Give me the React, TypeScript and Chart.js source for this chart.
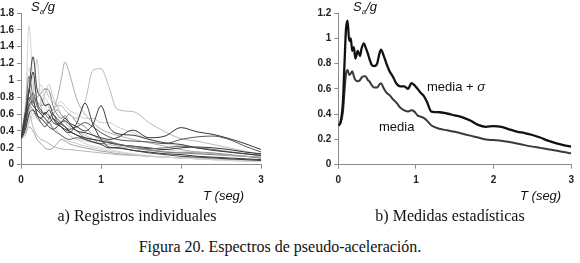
import React, { useEffect, useRef } from "react";
import { Chart, registerables } from "chart.js";

Chart.register(...registerables);

// ---------- Data: a) individual records ----------
const T_IND = [0, 0.05, 0.1, 0.15, 0.2, 0.25, 0.3, 0.35, 0.4, 0.45, 0.5, 0.55, 0.6, 0.7, 0.8, 0.9, 1.0, 1.1, 1.2, 1.4, 1.6, 1.8, 2.0, 2.2, 2.4, 2.6, 2.8, 3.0];

const REC_01 = [0.31, 0.5, 1.65, 1.0, 0.85, 0.95, 0.7, 0.6, 0.55, 0.5, 0.45, 0.4, 0.35, 0.3, 0.25, 0.22, 0.2, 0.18, 0.16, 0.13, 0.11, 0.09, 0.08, 0.07, 0.06, 0.05, 0.05, 0.04];
const REC_02 = [0.31, 0.45, 0.65, 0.75, 0.8, 0.85, 0.9, 0.8, 0.75, 0.7, 0.7, 0.65, 0.6, 0.55, 0.75, 1.12, 1.14, 0.92, 0.66, 0.63, 0.5, 0.39, 0.31, 0.28, 0.24, 0.2, 0.16, 0.12];
const REC_03 = [0.31, 0.4, 0.6, 0.8, 0.75, 0.7, 0.72, 0.68, 0.65, 0.78, 1.0, 1.22, 1.1, 0.77, 0.6, 0.5, 0.42, 0.38, 0.35, 0.3, 0.26, 0.22, 0.18, 0.15, 0.13, 0.11, 0.1, 0.09];
const REC_04 = [0.31, 0.55, 0.9, 1.28, 0.9, 0.8, 0.7, 0.72, 0.6, 0.55, 0.5, 0.45, 0.4, 0.35, 0.3, 0.27, 0.24, 0.2, 0.2, 0.17, 0.15, 0.13, 0.12, 0.1, 0.09, 0.08, 0.07, 0.06];
const REC_05 = [0.31, 0.5, 0.8, 0.7, 0.65, 0.6, 0.55, 0.5, 0.55, 0.5, 0.45, 0.4, 0.38, 0.5, 0.73, 0.48, 0.3, 0.21, 0.2, 0.17, 0.14, 0.12, 0.1, 0.09, 0.08, 0.07, 0.06, 0.05];
const REC_06 = [0.31, 0.45, 0.7, 0.75, 0.6, 0.55, 0.62, 0.58, 0.5, 0.48, 0.5, 0.55, 0.5, 0.45, 0.4, 0.48, 0.7, 0.45, 0.37, 0.35, 0.3, 0.26, 0.24, 0.2, 0.17, 0.15, 0.13, 0.11];
const REC_07 = [0.31, 0.4, 0.6, 0.65, 0.58, 0.55, 0.5, 0.45, 0.42, 0.45, 0.5, 0.52, 0.48, 0.4, 0.38, 0.35, 0.32, 0.3, 0.32, 0.41, 0.32, 0.34, 0.44, 0.39, 0.36, 0.31, 0.25, 0.18];
const REC_08 = [0.31, 0.5, 0.75, 0.85, 0.7, 0.62, 0.6, 0.55, 0.6, 0.52, 0.48, 0.45, 0.42, 0.45, 0.5, 0.45, 0.38, 0.33, 0.3, 0.28, 0.27, 0.25, 0.3, 0.33, 0.34, 0.3, 0.22, 0.15];
const REC_09 = [0.31, 0.6, 0.9, 0.75, 0.8, 0.85, 0.9, 0.88, 0.7, 0.6, 0.55, 0.58, 0.5, 0.4, 0.32, 0.3, 0.28, 0.26, 0.25, 0.2, 0.18, 0.15, 0.14, 0.13, 0.12, 0.11, 0.1, 0.08];
const REC_10 = [0.31, 0.45, 0.7, 0.8, 1.25, 0.7, 0.55, 0.5, 0.45, 0.4, 0.35, 0.3, 0.28, 0.25, 0.22, 0.2, 0.18, 0.16, 0.15, 0.12, 0.1, 0.09, 0.08, 0.07, 0.06, 0.05, 0.04, 0.04];
const REC_11 = [0.31, 0.35, 0.5, 0.6, 0.65, 0.7, 0.85, 0.95, 0.8, 0.7, 0.6, 0.5, 0.45, 0.4, 0.35, 0.3, 0.25, 0.24, 0.22, 0.2, 0.18, 0.16, 0.14, 0.13, 0.12, 0.11, 0.1, 0.09];
const REC_12 = [0.31, 0.35, 0.45, 0.4, 0.3, 0.25, 0.2, 0.18, 0.2, 0.25, 0.3, 0.28, 0.25, 0.22, 0.2, 0.18, 0.16, 0.15, 0.13, 0.12, 0.1, 0.09, 0.08, 0.07, 0.06, 0.06, 0.05, 0.05];
const REC_13 = [0.31, 0.4, 0.55, 0.65, 0.7, 0.75, 0.8, 0.7, 0.65, 0.7, 0.75, 0.7, 0.65, 0.6, 0.55, 0.55, 0.5, 0.5, 0.45, 0.38, 0.3, 0.25, 0.22, 0.2, 0.18, 0.16, 0.13, 0.1];
const REC_14 = [0.31, 0.55, 1.05, 0.8, 0.6, 0.5, 0.45, 0.5, 0.42, 0.38, 0.35, 0.32, 0.3, 0.32, 0.3, 0.27, 0.25, 0.27, 0.24, 0.22, 0.19, 0.2, 0.22, 0.2, 0.18, 0.15, 0.13, 0.11];
const REC_15 = [0.31, 0.6, 0.85, 1.1, 0.75, 0.65, 0.6, 0.65, 0.55, 0.48, 0.45, 0.42, 0.4, 0.35, 0.32, 0.3, 0.28, 0.26, 0.24, 0.22, 0.2, 0.18, 0.2, 0.21, 0.2, 0.18, 0.15, 0.13];
const REC_16 = [0.31, 0.5, 0.6, 0.45, 0.35, 0.3, 0.28, 0.25, 0.22, 0.2, 0.19, 0.18, 0.18, 0.17, 0.16, 0.15, 0.14, 0.13, 0.12, 0.11, 0.1, 0.09, 0.08, 0.08, 0.07, 0.06, 0.06, 0.05];
const REC_17 = [0.31, 0.45, 0.7, 0.65, 0.55, 0.5, 0.45, 0.55, 0.6, 0.65, 0.6, 0.55, 0.6, 0.5, 0.45, 0.35, 0.3, 0.28, 0.25, 0.2, 0.17, 0.15, 0.14, 0.15, 0.14, 0.12, 0.1, 0.08];
const REC_18 = [0.31, 0.7, 1.15, 0.9, 0.7, 0.6, 0.5, 0.55, 0.6, 0.5, 0.45, 0.4, 0.35, 0.3, 0.28, 0.26, 0.25, 0.24, 0.22, 0.2, 0.19, 0.18, 0.16, 0.15, 0.13, 0.12, 0.1, 0.08];

const RECORDS = [REC_01, REC_02, REC_03, REC_04, REC_05, REC_06, REC_07, REC_08, REC_09, REC_10, REC_11, REC_12, REC_13, REC_14, REC_15, REC_16, REC_17, REC_18];
const REC_COLORS = ["#d4d4d4", "#bbbbbb", "#acacac", "#3a3a3a", "#444444", "#3c3c3c", "#383838", "#5a5a5a", "#808080", "#cccccc", "#c2c2c2", "#a6a6a6", "#d0d0d0", "#6a6a6a", "#333333", "#b6b6b6", "#909090", "#dadada"];

// ---------- Data: b) statistics ----------
const T_STAT = [0, 0.03, 0.06, 0.08, 0.1, 0.12, 0.14, 0.16, 0.18, 0.2, 0.22, 0.25, 0.28, 0.3, 0.33, 0.35, 0.38, 0.4, 0.43, 0.46, 0.5, 0.53, 0.55, 0.58, 0.62, 0.66, 0.7, 0.75, 0.8, 0.85, 0.9, 0.94, 0.98, 1.02, 1.06, 1.1, 1.14, 1.2, 1.3, 1.4, 1.5, 1.6, 1.7, 1.8, 1.9, 2.0, 2.1, 2.2, 2.3, 2.4, 2.5, 2.6, 2.7, 2.8, 2.9, 3.0];
const MEDIA_SIGMA = [0.31, 0.34, 0.5, 0.8, 1.08, 1.14, 0.98, 1.0, 0.9, 0.93, 0.84, 0.9, 0.86, 0.92, 0.96, 0.93, 0.88, 0.84, 0.79, 0.78, 0.8, 0.88, 0.91, 0.87, 0.8, 0.74, 0.7, 0.64, 0.62, 0.62, 0.6, 0.645, 0.63, 0.6, 0.57, 0.545, 0.5, 0.42, 0.415, 0.405, 0.39, 0.375, 0.35, 0.315, 0.3, 0.305, 0.3, 0.28, 0.262, 0.25, 0.235, 0.215, 0.19, 0.17, 0.155, 0.142];
const MEDIA = [0.31, 0.33, 0.42, 0.58, 0.72, 0.75, 0.71, 0.72, 0.74, 0.7, 0.67, 0.66, 0.67, 0.69, 0.7, 0.7, 0.67, 0.66, 0.63, 0.61, 0.61, 0.635, 0.645, 0.61, 0.57, 0.55, 0.52, 0.49, 0.45, 0.43, 0.42, 0.43, 0.42, 0.39, 0.38, 0.37, 0.35, 0.31, 0.285, 0.272, 0.26, 0.245, 0.23, 0.215, 0.2, 0.195, 0.19, 0.18, 0.168, 0.155, 0.143, 0.133, 0.122, 0.112, 0.1, 0.09];

const X_MAX = 3;
const Y_MAX_A = 1.8;
const Y_MAX_B = 1.2;

const AXIS_COLOR = "#8c8c8c";
const TICK_FONT = { family: "'Liberation Sans', Arial, sans-serif", size: 10, weight: "bold" as const };

function pairs(xs: number[], ys: number[]) {
  return xs.map((x, i) => ({ x, y: ys[i] }));
}

function fmt(v: number | string) {
  return String(Number(Number(v).toFixed(1)));
}

function makeOptions(yMax: number, yWidth: number, rightPad: number) {
  return {
    responsive: false,
    animation: false as const,
    events: [] as any[],
    layout: { padding: { left: 0, right: rightPad, top: 13, bottom: 0 } },
    plugins: { legend: { display: false }, tooltip: { enabled: false } },
    elements: { point: { radius: 0 } },
    scales: {
      x: {
        type: "linear" as const,
        min: 0,
        max: X_MAX,
        ticks: { stepSize: 1, color: "#222", font: TICK_FONT, padding: 6, maxRotation: 0, callback: fmt },
        grid: { drawOnChartArea: false, drawTicks: true, tickLength: 4, color: AXIS_COLOR },
        border: { color: AXIS_COLOR, width: 1 },
        afterFit: (s: any) => { s.height = 35.3; },
      },
      y: {
        type: "linear" as const,
        min: 0,
        max: yMax,
        ticks: { stepSize: 0.2, color: "#222", font: TICK_FONT, padding: 3, callback: fmt },
        grid: { drawOnChartArea: false, drawTicks: true, tickLength: 4, color: AXIS_COLOR },
        border: { color: AXIS_COLOR, width: 1 },
        afterFit: (s: any) => { s.width = yWidth; },
      },
    },
  };
}

function ChartA() {
  const ref = useRef<HTMLCanvasElement>(null);
  useEffect(() => {
    if (!ref.current) return;
    const chart = new Chart(ref.current, {
      type: "line",
      data: {
        datasets: RECORDS.map((r, i) => ({
          data: pairs(T_IND, r),
          borderColor: REC_COLORS[i],
          borderWidth: 1,
          cubicInterpolationMode: "monotone" as const,
          fill: false,
          order: REC_COLORS[i] < "#800000" ? 0 : 1,
        })),
      },
      options: makeOptions(Y_MAX_A, 21, 29) as any,
    });
    return () => chart.destroy();
  }, []);
  return <canvas ref={ref} width={290} height={200} style={{ position: "absolute", left: 0, top: 0, width: 290, height: 200 }} />;
}

function ChartB() {
  const ref = useRef<HTMLCanvasElement>(null);
  useEffect(() => {
    if (!ref.current) return;
    const chart = new Chart(ref.current, {
      type: "line",
      data: {
        datasets: [
          { data: pairs(T_STAT, MEDIA_SIGMA), borderColor: "#111111", borderWidth: 2.3, cubicInterpolationMode: "monotone" as const, fill: false },
          { data: pairs(T_STAT, MEDIA), borderColor: "#3a3a3a", borderWidth: 2, cubicInterpolationMode: "monotone" as const, fill: false },
        ],
      },
      options: makeOptions(Y_MAX_B, 48.3, 2.7) as any,
    });
    return () => chart.destroy();
  }, []);
  return <canvas ref={ref} width={290} height={200} style={{ position: "absolute", left: 290, top: 0, width: 290, height: 200 }} />;
}

const sans = "'Liberation Sans', Arial, sans-serif";
const serif = "'Liberation Serif', 'Times New Roman', serif";

function Label(props: { left: number; top: number; children: React.ReactNode; italic?: boolean }) {
  return (
    <div style={{ position: "absolute", left: props.left, top: props.top, fontFamily: sans, fontSize: 13, lineHeight: "13px", fontStyle: props.italic ? "italic" : "normal", color: "#111", whiteSpace: "nowrap" }}>
      {props.children}
    </div>
  );
}

function SaG({ left }: { left: number }) {
  return (
    <Label left={left} top={0} italic>
      S<span style={{ fontSize: 8, position: "relative", top: 3 }}>a</span>/g
    </Label>
  );
}

function Caption(props: { center: number; top: number; text: string }) {
  return (
    <div style={{ position: "absolute", left: props.center - 200, width: 400, top: props.top, textAlign: "center", fontFamily: serif, fontSize: 16, lineHeight: "16px", color: "#111", whiteSpace: "nowrap" }}>
      {props.text}
    </div>
  );
}

export default function App() {
  return (
    <div style={{ position: "absolute", left: 0, top: 0, width: 580, height: 263, background: "#fff", overflow: "hidden" }}>
      <ChartA />
      <ChartB />
      <SaG left={31} />
      <SaG left={353} />
      <Label left={203} top={188.5} italic>T (seg)</Label>
      <Label left={520} top={188.5} italic>T (seg)</Label>
      <Label left={427} top={80}>media + <i>σ</i></Label>
      <Label left={379} top={119.5}>media</Label>
      <Caption center={137} top={207.6} text="a) Registros individuales" />
      <Caption center={450} top={207.6} text="b) Medidas estadísticas" />
      <Caption center={280} top={239} text="Figura 20. Espectros de pseudo-aceleración." />
    </div>
  );
}
